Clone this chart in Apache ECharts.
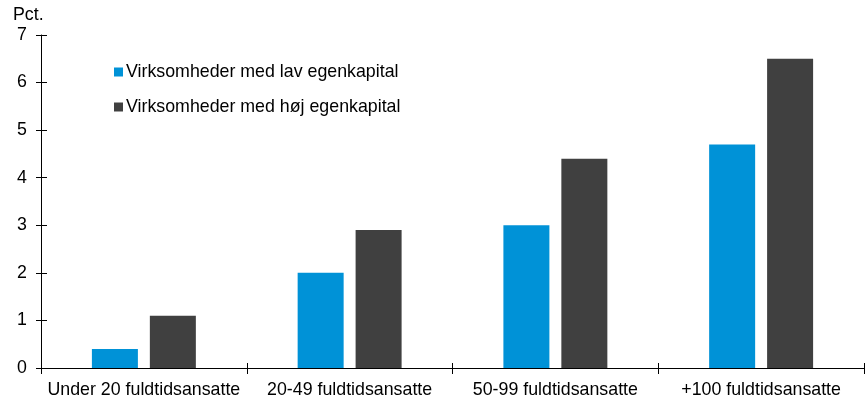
<!DOCTYPE html>
<html>
<head>
<meta charset="utf-8">
<script src="https://cdn.jsdelivr.net/npm/echarts@6/dist/echarts.min.js"></script>
<style>
  html, body { margin: 0; padding: 0; background: #fff; }
  #chart { width: 866px; height: 401px; }
</style>
</head>
<body>
<div id="chart"></div>
<script>
// Size classes on the x axis
const categories = ['Under 20 fuldtidsansatte', '20-49 fuldtidsansatte', '50-99 fuldtidsansatte', '+100 fuldtidsansatte'];
// Share in percent for each group of firms
const lowEquity = [0.4, 2.0, 3.0, 4.7];
const highEquity = [1.1, 2.9, 4.4, 6.5];
const seriesNames = ['Virksomheder med lav egenkapital', 'Virksomheder med høj egenkapital'];
const yTicks = [0, 1, 2, 3, 4, 5, 6, 7];

const font = 'Liberation Sans, Arial, sans-serif';
const fs = 17.8;
const chart = echarts.init(document.getElementById('chart'), null, { renderer: 'canvas' });

// Shared axis settings; a second, hidden-line copy of each axis adds the inner half of the crossing ticks
const xBase = {
  type: 'category',
  data: categories,
  axisLine: { lineStyle: { color: '#000', width: 1 } },
  axisTick: { show: true, length: 6, lineStyle: { color: '#000' } },
  axisLabel: { fontFamily: font, fontSize: fs, color: '#000', margin: 13, interval: 0 }
};
const yBase = {
  type: 'value',
  min: yTicks[0],
  max: yTicks[yTicks.length - 1],
  interval: 1,
  splitLine: { show: false },
  axisLine: { show: true, lineStyle: { color: '#000', width: 1 } },
  axisTick: { show: true, length: 5, lineStyle: { color: '#000' } },
  axisLabel: { fontFamily: font, fontSize: fs, color: '#000', margin: 14 }
};

chart.setOption({
  animation: false,
  textStyle: { fontFamily: font, color: '#000' },
  grid: { left: 41, right: 2, top: 35, bottom: 33, containLabel: false },
  legend: {
    orient: 'vertical',
    left: 109,
    top: 58,
    itemGap: 17,
    itemWidth: 9,
    itemHeight: 9,
    icon: 'rect',
    textStyle: { fontFamily: font, fontSize: fs, color: '#000', padding: [0, 0, 0, -2] },
    data: seriesNames
  },
  xAxis: [
    xBase,
    Object.assign({}, xBase, {
      position: 'bottom',
      axisLine: { show: false },
      axisTick: { show: true, inside: true, length: 5, lineStyle: { color: '#000' } },
      axisLabel: { show: false }
    })
  ],
  yAxis: [
    Object.assign({}, yBase, {
      name: 'Pct.',
      nameLocation: 'end',
      nameGap: 11,
      nameTextStyle: { fontFamily: font, fontSize: fs, color: '#000', align: 'left', padding: [0, 0, 0, -28] }
    }),
    Object.assign({}, yBase, {
      position: 'left',
      axisLine: { show: false },
      axisTick: { show: true, inside: true, length: 6, lineStyle: { color: '#000' } },
      axisLabel: { show: false }
    })
  ],
  series: [
    {
      name: seriesNames[0],
      type: 'bar',
      data: lowEquity,
      barWidth: 46,
      barGap: '26%',
      itemStyle: { color: '#0092d7' }
    },
    {
      name: seriesNames[1],
      type: 'bar',
      data: highEquity,
      barWidth: 46,
      itemStyle: { color: '#404040' }
    }
  ]
});
</script>
</body>
</html>
